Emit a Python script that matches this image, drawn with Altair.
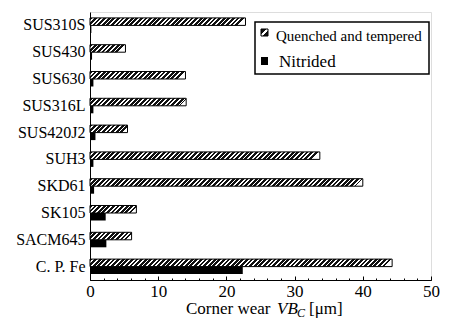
import altair as alt
import pandas as pd

categories = ["SUS310S", "SUS430", "SUS630", "SUS316L", "SUS420J2",
              "SUH3", "SKD61", "SK105", "SACM645", "C. P. Fe"]
quenched = [22.8, 5.2, 14.0, 14.1, 5.5, 33.7, 40.0, 6.8, 6.1, 44.3]
nitrided = [0.2, 0.3, 0.5, 0.5, 0.8, 0.5, 0.6, 2.3, 2.4, 22.4]
treatments = ["Quenched and tempered", "Nitrided"]
major_ticks = [0, 10, 20, 30, 40, 50]
minor_ticks = [0, 2, 4, 6, 8, 10, 12, 14, 16, 18, 20, 22, 24, 26, 28, 30,
               32, 34, 36, 38, 40, 42, 44, 46, 48, 50]

rows = []
for c, q, n in zip(categories, quenched, nitrided):
    rows.append({"material": c, "treatment": treatments[0], "wear": q})
    rows.append({"material": c, "treatment": treatments[1], "wear": n})
df = pd.DataFrame(rows)

W_PLOT, H_PLOT = 341, 268
X_MAX = 50
PX_PER_UNIT = W_PLOT / X_MAX
BAR_H = 7.5
FONT = "'Liberation Serif', 'Times New Roman', 'DejaVu Serif', serif"


def hatch_gradient(w, h, period=4.6):
    r = h / w
    denom = w * (1 + r * r)
    pt = period / denom
    stops = []
    t = 0.0
    while t < 1.0:
        a, b, c = t, min(t + pt * 0.6, 1.0), min(t + pt, 1.0)
        stops += [{"offset": a, "color": "#111111"},
                  {"offset": b, "color": "#111111"},
                  {"offset": b, "color": "#ffffff"},
                  {"offset": c, "color": "#ffffff"}]
        t += pt
    return {"gradient": "linear", "x1": 0, "y1": 0, "x2": 1, "y2": r, "stops": stops}


base = alt.Chart(df)
y_enc = alt.Y("material:N", sort=categories, title=None,
              scale=alt.Scale(paddingInner=0.44, paddingOuter=0.22),
              axis=alt.Axis(ticks=False, labelFont=FONT, labelFontSize=16,
                            labelColor="black", domainColor="black",
                            labelPadding=5))
yoff_enc = alt.YOffset("treatment:N", sort=treatments,
                       scale=alt.Scale(domain=treatments, paddingInner=0, paddingOuter=0))


def xenc(axis):
    return alt.X("wear:Q", scale=alt.Scale(domain=[0, X_MAX], nice=False), axis=axis, title=None)


layers = []
layers.append(base.mark_point(opacity=0).encode(
    x=xenc(alt.Axis(orient="bottom", values=major_ticks, ticks=False, grid=False,
                    labelFont=FONT, labelFontSize=17, labelColor="black",
                    domainColor="black", labelPadding=3, labelFlush=False)),
    y=y_enc))
layers.append(base.mark_point(opacity=0).encode(
    x=xenc(alt.Axis(orient="top", offset=-H_PLOT, values=major_ticks, labels=False,
                    domain=False, tickSize=4, tickColor="black", grid=False)),
    y=y_enc))
layers.append(base.mark_point(opacity=0).encode(
    x=xenc(alt.Axis(orient="top", offset=-H_PLOT, values=minor_ticks, labels=False,
                    domain=False, tickSize=2, tickColor="black", grid=False)),
    y=y_enc))

for c, q in zip(categories, quenched):
    grad = hatch_gradient(q * PX_PER_UNIT, BAR_H)
    layers.append(base.transform_filter(
        (alt.datum.material == c) & (alt.datum.treatment == treatments[0])
    ).mark_bar(fill=grad, stroke="black", strokeWidth=1).encode(
        x=xenc(None), y=y_enc, yOffset=yoff_enc))

layers.append(base.transform_filter(alt.datum.treatment == treatments[1]).mark_bar(
    fill="black").encode(x=xenc(None), y=y_enc, yOffset=yoff_enc))

one = alt.Data(values=[{"k": 1}])
legend_box = alt.Chart(one).mark_rect(fill="white", stroke="black", strokeWidth=1.5).encode(
    x=alt.value(165), x2=alt.value(339), y=alt.value(10), y2=alt.value(62))
legend_hatch = alt.Chart(one).mark_rect(
    fill={"gradient": "linear", "x1": 0, "y1": 0, "x2": 1, "y2": 1,
          "stops": [{"offset": 0, "color": "#111111"}, {"offset": 0.38, "color": "#111111"},
                    {"offset": 0.38, "color": "#ffffff"}, {"offset": 0.62, "color": "#ffffff"},
                    {"offset": 0.62, "color": "#111111"}, {"offset": 1, "color": "#111111"}]},
    stroke="black", strokeWidth=1).encode(
    x=alt.value(171), x2=alt.value(178), y=alt.value(17), y2=alt.value(24))
legend_black = alt.Chart(one).mark_rect(fill="black").encode(
    x=alt.value(171), x2=alt.value(178), y=alt.value(45), y2=alt.value(53))
legend_t1 = alt.Chart(one).mark_text(text=treatments[0], font=FONT, fontSize=15,
                                     align="left", baseline="alphabetic", color="black").encode(
    x=alt.value(186), y=alt.value(29))
legend_t2 = alt.Chart(one).mark_text(text=treatments[1], font=FONT, fontSize=17,
                                     align="left", baseline="alphabetic", color="black").encode(
    x=alt.value(189), y=alt.value(55))

title_y = 302
t_a = alt.Chart(one).mark_text(text="Corner wear", font=FONT, fontSize=17, align="left",
                               baseline="alphabetic", color="black").encode(
    x=alt.value(96), y=alt.value(title_y))
t_b = alt.Chart(one).mark_text(text="VB", font=FONT, fontSize=17, fontStyle="italic",
                               align="left", baseline="alphabetic", color="black").encode(
    x=alt.value(187), y=alt.value(title_y))
t_c = alt.Chart(one).mark_text(text="C", font=FONT, fontSize=12, fontStyle="italic",
                               align="left", baseline="alphabetic", color="black").encode(
    x=alt.value(207), y=alt.value(title_y + 3))
t_d = alt.Chart(one).mark_text(text="[μm]", font=FONT, fontSize=17, align="left",
                               baseline="alphabetic", color="black").encode(
    x=alt.value(219), y=alt.value(title_y))

chart = alt.layer(*layers, legend_box, legend_hatch, legend_black, legend_t1, legend_t2,
                  t_a, t_b, t_c, t_d).resolve_scale(x="independent").resolve_axis(
    x="independent").properties(
    width=W_PLOT, height=H_PLOT,
    padding={"left": 82, "top": 4, "right": 10, "bottom": 40},
    autosize=alt.AutoSizeParams(type="none"),
).configure_view(stroke="black", strokeWidth=1.5).configure(background="white")

chart.save("out.html", embed_options={"renderer": "svg", "actions": False})
